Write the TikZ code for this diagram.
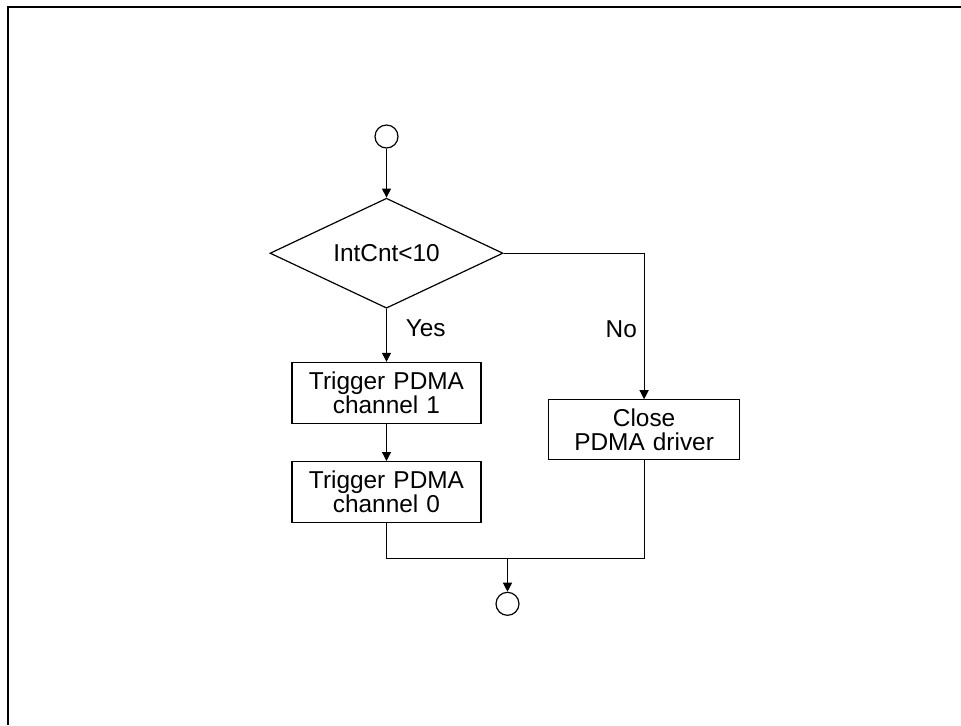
\documentclass[tikz,border=0pt]{standalone}
\usepackage{fontspec}
\setmainfont{Liberation Sans}
\usepackage{tikz}
\usetikzlibrary{shapes.geometric, arrows.meta, positioning, calc}

\begin{document}
\begin{tikzpicture}[auto, node distance=2cm, font=\fontsize{12.2}{12}\selectfont]
    % Styles
    \tikzstyle{terminal} = [circle, draw, line width=0.6pt, minimum size=11.5pt, inner sep=0pt]
    \tikzstyle{block} = [rectangle, draw, line width=0.6pt, text width=3.2cm, align=center, minimum width=94.5pt, minimum height=30.5pt, inner sep=0pt]
    \tikzstyle{decision} = [diamond, draw, line width=0.6pt, minimum width=116.5pt, minimum height=55pt, aspect=2.1, inner sep=0pt]
    \tikzstyle{line} = [draw, line width=0.6pt, -{Triangle[length=4.5pt, width=4.5pt]}]
    \tikzstyle{plain} = [draw, line width=0.6pt]

    % --- PAGE AND FRAME ---
    \useasboundingbox (-193.25pt,-294.25pt) rectangle (287.25pt,68.25pt);
    \draw[line width=1pt] (-189.25pt,-294.25pt) -- (-189.25pt,64.75pt) -- (287.25pt,64.75pt);

    % --- NODES ---
    \node [terminal] (start) at (0,0) {};
    \node [decision, below=24.5pt of start] (cond) {IntCnt<10};
    \node [block, below=26.5pt of cond] (chan1) {Trigger PDMA\\channel 1};
    \node [block, below=18.5pt of chan1] (chan0) {Trigger PDMA\\channel 0};
    \node [block, below=73pt of cond.east, xshift=70.25pt, anchor=north, minimum width=95.5pt, minimum height=30pt] (close) {Close\\PDMA driver};
    \coordinate (join) at ($(chan0.south)+(60.5pt,-17.5pt)$);
    \node [terminal, below=16.75pt of join] (stop) {};

    % --- CONNECTIONS ---
    \path [line] (start) -- (cond);
    \path [line] (cond) -- node[right=6pt, pos=0.37] {Yes} (chan1);
    \path [line] (chan1) -- (chan0);
    \path [line] (cond.east) -| node[left, pos=0.76] {No} (close.north);
    \path [plain] (chan0.south) |- (join) -| (close.south);
    \path [line] (join) -- (stop);

\end{tikzpicture}
\end{document}
